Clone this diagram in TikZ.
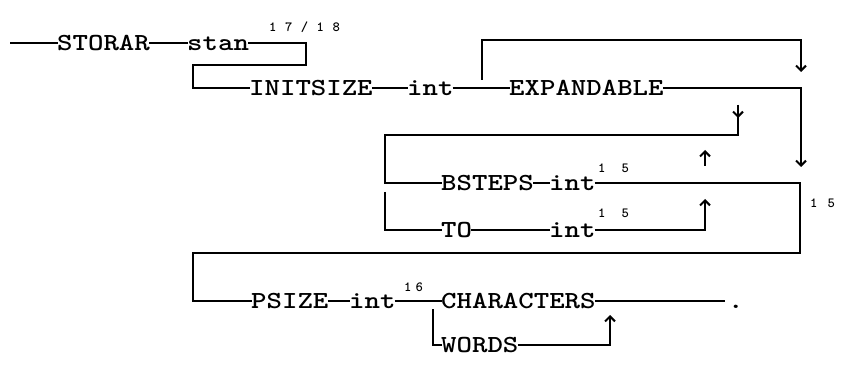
\documentclass[tikz,border=0pt]{standalone}
\usepackage{fontspec}
\usetikzlibrary{arrows.meta}
\newcommand\kwt[1]{\scalebox{1.2}[1]{#1}}
\tikzset{
  kw/.style={font=\ttfamily\bfseries\fontsize{24.5}{24.5}\selectfont, inner ysep=0pt, inner xsep=-1pt,
             text height=15pt, text depth=0pt, anchor=west},
  supnum/.style={font=\ttfamily\bfseries\fontsize{14}{14}\selectfont, inner sep=0pt, anchor=base west},
  rail/.style={line width=2.6pt, line join=miter, line cap=butt},
  tip/.style={-{Straight Barb[length=5pt,width=10pt,line width=2pt]}}
}
\begin{document}
\begin{tikzpicture}[x=1pt,y=-1pt]
\useasboundingbox (0,0) rectangle (843,371);
% row 1
\coordinate (s0) at (10,43);
\node[kw] (storar) at (58,43) {\kwt{STORAR}};
\node[kw] (stan) at (188,43) {\kwt{stan}};
\node[supnum] (n1718) at (269,32) {1\kern8.5pt 7\kern8.5pt /\kern8.5pt 1\kern8.5pt 8};
\coordinate (c1) at (306,43);
\coordinate (c2) at (306,65);
\coordinate (c3) at (193,65);
\coordinate (c4) at (193,88);
\node[kw] (initsize) at (250,88) {\kwt{INITSIZE}};
\draw[rail] (s0) -- (storar);
\draw[rail] (storar) -- (stan);
\draw[rail] (stan) -- (c1) -- (c2) -- (c3) -- (c4) -- (initsize);
% row 2
\node[kw] (int1) at (408,88) {\kwt{int}};
\node[kw] (expand) at (510,88) {\kwt{EXPANDABLE}};
\draw[rail] (initsize) -- (int1);
\draw[rail] (int1) -- (expand);
\coordinate (b0) at (482,80);
\coordinate (b1) at (482,40);
\coordinate (b2) at (801,40);
\coordinate (b3) at (801,72);
\draw[rail,tip] (b0) -- (b1) -- (b2) -- (b3);
\coordinate (r1) at (801,88);
\coordinate (r2) at (801,167);
\draw[rail,tip] (expand) -- (r1) -- (r2);
% inner loop
\coordinate (l0) at (738,105);
\coordinate (l0h) at (738,118);
\coordinate (l1) at (738,135);
\coordinate (l2) at (385,135);
\coordinate (l3) at (385,183);
\node[kw] (bsteps) at (442,183) {\kwt{BSTEPS}};
\node[kw] (int2) at (550,183) {\kwt{int}};
\node[supnum] (n15a) at (598,173) {1\kern16pt 5};
\draw[rail] (l0) -- (l1) -- (l2) -- (l3) -- (bsteps);
\draw[rail,tip] (l0) -- (l0h);
\draw[rail] (bsteps) -- (int2);
\coordinate (fa0) at (705,166);
\coordinate (fa1) at (705,150);
\draw[rail,tip] (fa0) -- (fa1);
\coordinate (r3) at (800,183);
\coordinate (r4) at (800,253);
\coordinate (r5) at (193,253);
\coordinate (r6) at (193,301);
\node[kw] (psize) at (252,301) {\kwt{PSIZE}};
\draw[rail] (int2) -- (r3) -- (r4) -- (r5) -- (r6) -- (psize);
\node[supnum] (n15c) at (810,208) {1\kern10pt 5};
% TO row
\coordinate (t0) at (385,192);
\coordinate (t1) at (385,230);
\node[kw] (to) at (442,230) {\kwt{TO}};
\node[kw] (int3) at (550,230) {\kwt{int}};
\node[supnum] (n15b) at (598,218) {1\kern16pt 5};
\coordinate (t2) at (705,230);
\coordinate (t3) at (705,199);
\draw[rail] (t0) -- (t1) -- (to);
\draw[rail] (to) -- (int3);
\draw[rail,tip] (int3) -- (t2) -- (t3);
% row 4
\node[kw] (int4) at (350,301) {\kwt{int}};
\node[supnum] (n16) at (404,291) {1\kern4pt 6};
\node[kw] (chars) at (442,301) {\kwt{CHARACTERS}};
\coordinate (e1) at (725,301);
\node[kw] (dot) at (729,301) {\kwt{.}};
\draw[rail] (psize) -- (int4);
\draw[rail] (int4) -- (chars);
\draw[rail] (chars) -- (e1);
\coordinate (w0) at (433,309);
\coordinate (w1) at (433,345);
\node[kw] (words) at (442,345) {\kwt{WORDS}};
\coordinate (w2) at (610,345);
\coordinate (w3) at (610,315);
\draw[rail] (w0) -- (w1) -- (words);
\draw[rail,tip] (words) -- (w2) -- (w3);
\end{tikzpicture}
\end{document}
